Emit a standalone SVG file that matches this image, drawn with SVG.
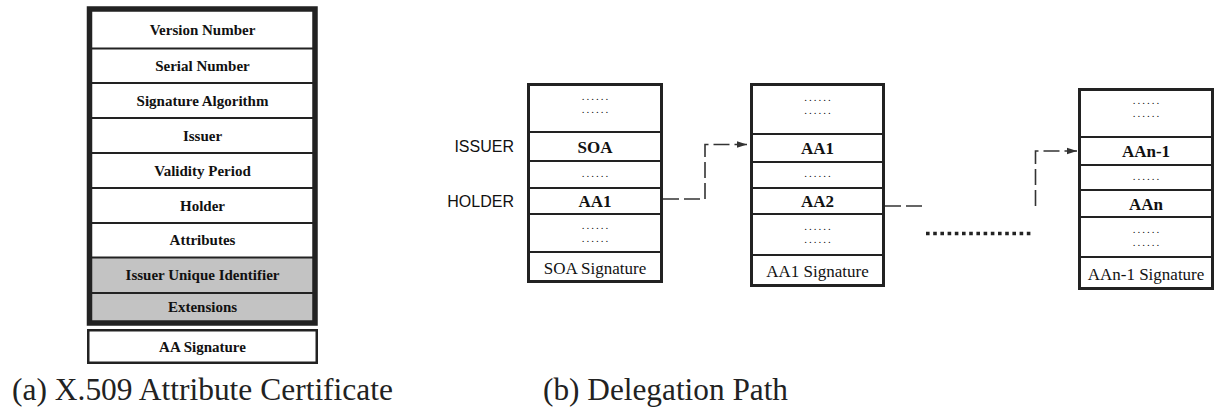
<svg xmlns="http://www.w3.org/2000/svg" width="1216" height="410" viewBox="0 0 1216 410">
  <style>
    .field { font-family: "Liberation Serif", "Times New Roman", serif; font-weight: bold; font-size: 15px; fill: #111; text-anchor: middle; }
    .cell { font-family: "Liberation Serif", "Times New Roman", serif; font-size: 17px; fill: #111; text-anchor: middle; }
    .cellb { font-family: "Liberation Serif", "Times New Roman", serif; font-weight: bold; font-size: 17px; fill: #111; text-anchor: middle; }
    .dots { font-family: "Liberation Serif", "Times New Roman", serif; font-size: 11px; letter-spacing: 2px; fill: #111; text-anchor: middle; }
    .tag { font-family: "Liberation Sans", Arial, sans-serif; font-size: 16px; fill: #111; text-anchor: end; }
    .caption { font-family: "Liberation Serif", "Times New Roman", serif; font-size: 31px; fill: #222; }
    .sep { stroke: #222; stroke-width: 2.2; }
    .box { fill: #fff; stroke: #222; stroke-width: 3; }
    .link { fill: none; stroke: #333; stroke-width: 1.6; stroke-dasharray: 16 5; }
  </style>
  <defs>
    <marker id="arrow" markerUnits="userSpaceOnUse" markerWidth="11" markerHeight="8" refX="10" refY="4" orient="auto">
      <path d="M0,0.8 L10,4 L0,7.2 Z" fill="#333"/>
    </marker>
  </defs>

  <rect width="1216" height="410" fill="#fff"/>

  <!-- (a) attribute certificate layout -->
  <g id="attribute-certificate">
    <rect x="92" y="257.5" width="221" height="63.5" fill="#c3c3c3"/>
    <line class="sep" x1="92" y1="48.5" x2="313" y2="48.5"/>
    <line class="sep" x1="92" y1="83" x2="313" y2="83"/>
    <line class="sep" x1="92" y1="118" x2="313" y2="118"/>
    <line class="sep" x1="92" y1="153" x2="313" y2="153"/>
    <line class="sep" x1="92" y1="188" x2="313" y2="188"/>
    <line class="sep" x1="92" y1="223" x2="313" y2="223"/>
    <line class="sep" x1="92" y1="257.5" x2="313" y2="257.5"/>
    <line class="sep" x1="92" y1="293" x2="313" y2="293"/>
    <rect x="89.5" y="9" width="225.5" height="314" fill="none" stroke="#222" stroke-width="5.5"/>
    <text class="field" x="202.5" y="35">Version Number</text>
    <text class="field" x="202.5" y="71">Serial Number</text>
    <text class="field" x="202.5" y="105.5">Signature Algorithm</text>
    <text class="field" x="202.5" y="140.5">Issuer</text>
    <text class="field" x="202.5" y="175.5">Validity Period</text>
    <text class="field" x="202.5" y="210.5">Holder</text>
    <text class="field" x="202.5" y="245">Attributes</text>
    <text class="field" x="202.5" y="280">Issuer Unique Identifier</text>
    <text class="field" x="202.5" y="312">Extensions</text>
  </g>
  <g id="aa-signature">
    <rect x="88.25" y="330.25" width="228.5" height="32.5" fill="#fff" stroke="#222" stroke-width="2.5"/>
    <text class="field" x="202.5" y="351.5">AA Signature</text>
  </g>

  <!-- (b) delegation path -->
  <g id="labels">
    <text class="tag" x="514" y="152">ISSUER</text>
    <text class="tag" x="514" y="207">HOLDER</text>
  </g>

  <g id="cert-soa">
    <rect class="box" x="528.5" y="84.5" width="133" height="197"/>
    <line class="sep" x1="527" y1="132" x2="663" y2="132"/>
    <line class="sep" x1="527" y1="161" x2="663" y2="161"/>
    <line class="sep" x1="527" y1="188" x2="663" y2="188"/>
    <line class="sep" x1="527" y1="214" x2="663" y2="214"/>
    <line class="sep" x1="527" y1="252" x2="663" y2="252"/>
    <text class="dots" x="596" y="100">......</text>
    <text class="dots" x="596" y="113">......</text>
    <text class="cellb" x="595" y="153">SOA</text>
    <text class="dots" x="596" y="177">......</text>
    <text class="cellb" x="595" y="207">AA1</text>
    <text class="dots" x="596" y="229">......</text>
    <text class="dots" x="596" y="242">......</text>
    <text class="cell" x="595" y="273.5">SOA Signature</text>
  </g>

  <g id="cert-aa1">
    <rect class="box" x="751.5" y="84.5" width="132" height="201"/>
    <line class="sep" x1="750" y1="134" x2="885" y2="134"/>
    <line class="sep" x1="750" y1="162" x2="885" y2="162"/>
    <line class="sep" x1="750" y1="188" x2="885" y2="188"/>
    <line class="sep" x1="750" y1="214" x2="885" y2="214"/>
    <line class="sep" x1="750" y1="255" x2="885" y2="255"/>
    <text class="dots" x="818.5" y="101">......</text>
    <text class="dots" x="818.5" y="114">......</text>
    <text class="cellb" x="817.5" y="154">AA1</text>
    <text class="dots" x="818.5" y="177">......</text>
    <text class="cellb" x="817.5" y="207">AA2</text>
    <text class="dots" x="818.5" y="230">......</text>
    <text class="dots" x="818.5" y="243">......</text>
    <text class="cell" x="817.5" y="277">AA1 Signature</text>
  </g>

  <g id="cert-aan-1">
    <rect class="box" x="1079.5" y="89.5" width="133" height="199"/>
    <line class="sep" x1="1078" y1="137" x2="1214" y2="137"/>
    <line class="sep" x1="1078" y1="165" x2="1214" y2="165"/>
    <line class="sep" x1="1078" y1="190" x2="1214" y2="190"/>
    <line class="sep" x1="1078" y1="217" x2="1214" y2="217"/>
    <line class="sep" x1="1078" y1="257" x2="1214" y2="257"/>
    <text class="dots" x="1147" y="104">......</text>
    <text class="dots" x="1147" y="117">......</text>
    <text class="cellb" x="1146" y="157">AAn-1</text>
    <text class="dots" x="1147" y="180">......</text>
    <text class="cellb" x="1146" y="210">AAn</text>
    <text class="dots" x="1147" y="233">......</text>
    <text class="dots" x="1147" y="246">......</text>
    <text class="cell" x="1146" y="280">AAn-1 Signature</text>
  </g>

  <g id="connectors">
    <path class="link" d="M663,199 H705 V144.5 H747" marker-end="url(#arrow)"/>
    <path class="link" d="M885,206 H925"/>
    <line x1="926" y1="233.5" x2="1034" y2="233.5" stroke="#222" stroke-width="3.5" stroke-dasharray="3.6 3.6"/>
    <path class="link" d="M1035.5,206 V151 H1077" marker-end="url(#arrow)"/>
  </g>

  <g id="captions">
    <text class="caption" x="12" y="400" textLength="381" lengthAdjust="spacingAndGlyphs">(a) X.509 Attribute Certificate</text>
    <text class="caption" x="543" y="400" textLength="245" lengthAdjust="spacingAndGlyphs">(b) Delegation Path</text>
  </g>
</svg>
